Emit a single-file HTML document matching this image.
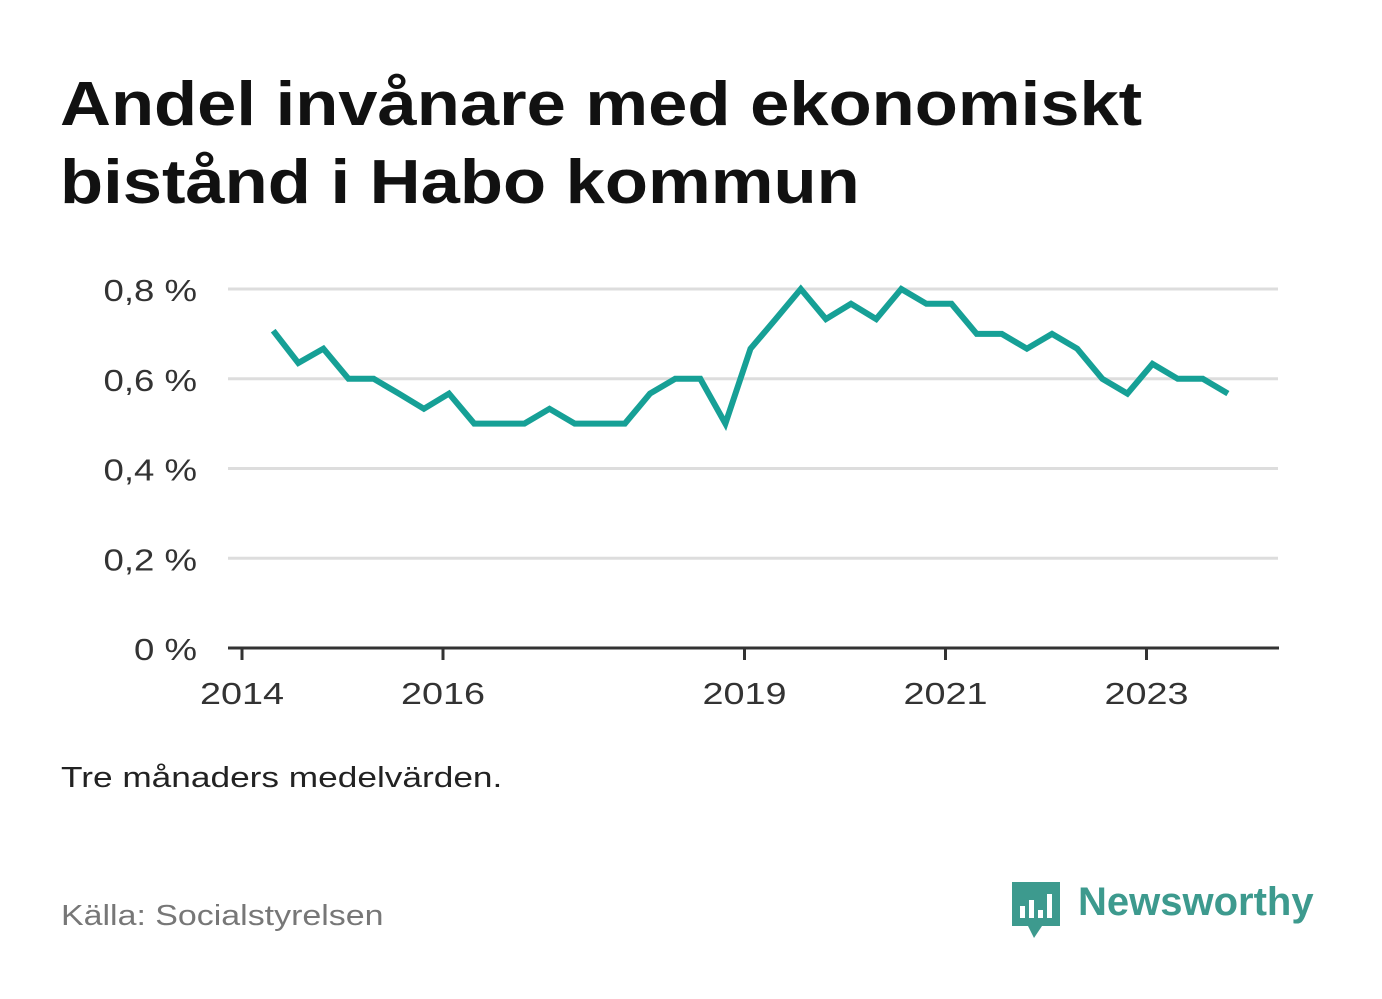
<!DOCTYPE html>
<html><head><meta charset="utf-8"><style>
body{margin:0;background:#fff;font-family:"Liberation Sans",sans-serif;}
#wrap{position:relative;width:1382px;height:999px;overflow:hidden}
h1{position:absolute;left:60px;top:66px;margin:0;font-size:62px;line-height:78px;font-weight:bold;color:#111;transform:scaleX(1.138);transform-origin:0 0;white-space:nowrap}
.note{position:absolute;left:61px;top:762px;font-size:29px;color:#222;transform:scaleX(1.215);transform-origin:0 0;white-space:nowrap}
.src{position:absolute;left:61px;top:900px;font-size:29px;color:#777;transform:scaleX(1.17);transform-origin:0 0;white-space:nowrap}
</style></head><body><div id="wrap">
<h1>Andel invånare med ekonomiskt<br>bistånd i Habo kommun</h1>
<svg id="chart" width="1382" height="999" style="position:absolute;left:0;top:0"></svg>
<div class="note">Tre månaders medelvärden.</div>
<div class="src">Källa: Socialstyrelsen</div>
<div style="position:absolute;left:1012px;top:880px;width:320px;height:60px">
<svg width="50" height="60" style="position:absolute;left:0;top:0"><path d="M0 2h48v44h-18l-8 12-6-12H0z" fill="#3d9a8e"/><rect x="8" y="26" width="5" height="12" fill="#fff"/><rect x="17" y="20" width="5" height="18" fill="#fff"/><rect x="26" y="30" width="5" height="8" fill="#fff"/><rect x="35" y="14" width="5" height="24" fill="#fff"/></svg>
<div style="position:absolute;left:66px;top:0;font-size:40px;font-weight:bold;color:#3d9a8e">Newsworthy</div></div>
</div>
<script>
const yTicks=[0,0.2,0.4,0.6,0.8];
const yTickLabels=["0 %","0,2 %","0,4 %","0,6 %","0,8 %"];
const xTicks=[2014,2016,2019,2021,2023];
const xTickLabels=["2014","2016","2019","2021","2023"];
const startTime=2014.31;
const values=[0.707,0.635,0.667,0.6,0.6,0.567,0.533,0.567,0.5,0.5,0.5,0.533,0.5,0.5,0.5,0.567,0.6,0.6,0.5,0.667,0.733,0.8,0.733,0.767,0.733,0.8,0.767,0.767,0.7,0.7,0.667,0.7,0.667,0.6,0.567,0.633,0.6,0.6,0.567];
const NS="http://www.w3.org/2000/svg";
const svg=document.getElementById('chart');
const xS=t=>242+(t-2014)*100.5;
const yS=v=>648-v/0.8*359;
function mk(tag,attrs){const e=document.createElementNS(NS,tag);for(const k in attrs)e.setAttribute(k,attrs[k]);svg.appendChild(e);return e;}
yTicks.forEach((v,i)=>{
 if(v>0){const g=mk('line',{x1:228,x2:1278,y1:yS(v),y2:yS(v),stroke:'#ddd','stroke-width':3});
 
 }
 const t=mk('text',{x:0,y:0,transform:'translate(197,'+(yS(v)+12)+') scale(1.18,1)','text-anchor':'end','font-size':31,fill:'#333','font-family':'Liberation Sans, sans-serif'});
 t.textContent=yTickLabels[i];
 
 
});
const ax=mk('line',{x1:228,x2:1279,y1:648,y2:648,stroke:'#333','stroke-width':3});


xTicks.forEach((yr,i)=>{
 const tk=mk('line',{x1:xS(yr),x2:xS(yr),y1:648,y2:660,stroke:'#333','stroke-width':3});
 
 
 const t=mk('text',{x:0,y:0,transform:'translate('+xS(yr)+',704) scale(1.22,1)','text-anchor':'middle','font-size':31,fill:'#333','font-family':'Liberation Sans, sans-serif'});
 t.textContent=xTickLabels[i];
 
 
});
const pts=values.map((v,i)=>xS(startTime+0.25*i).toFixed(1)+','+yS(v).toFixed(1)).join(' ');
const line=mk('polyline',{points:pts,fill:'none',stroke:'#16a096','stroke-width':6,'stroke-linejoin':'miter'});


</script></body></html>
